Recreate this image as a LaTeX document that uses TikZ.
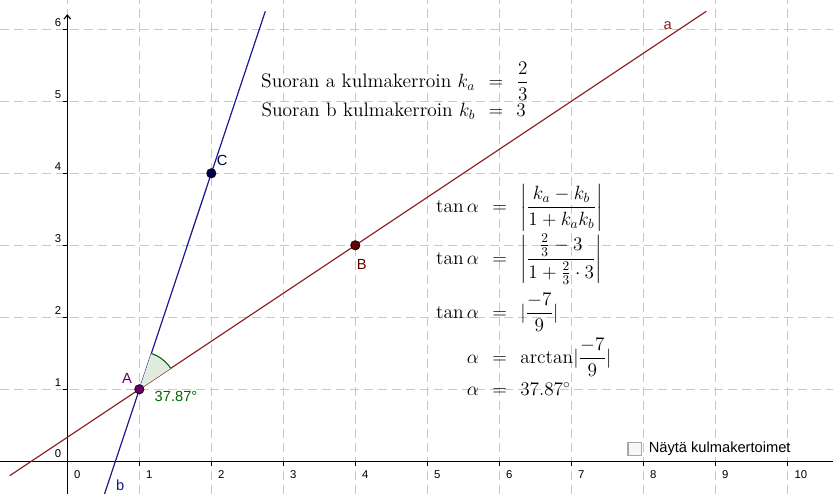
\documentclass[tikz,border=0pt]{standalone}
\usepackage{amsmath,amssymb}
\usepackage{fontspec}
\newfontfamily\ggbfont{Liberation Sans}
\usetikzlibrary{arrows.meta, positioning, calc}

\definecolor{linea}{RGB}{140,30,30}
\definecolor{lineb}{RGB}{25,25,140}
\definecolor{pointa}{RGB}{102,0,102}
\definecolor{pointb}{RGB}{100,0,0}
\definecolor{pointc}{RGB}{0,0,70}
\definecolor{anglegreen}{RGB}{0,100,0}
\definecolor{gridgray}{RGB}{200,200,200}

\begin{document}
\begin{tikzpicture}[x=54pt, y=54pt,
    gridline/.style={gridgray, line width=1.1pt, dash pattern=on 6.75pt off 3.75pt},
    axisline/.style={black, line width=0.9pt},
    ticklabel/.style={font=\ggbfont\fontsize{8.5}{10}\selectfont, inner sep=0pt},
    ptdot/.style={circle, draw=black, line width=0.5pt, inner sep=0pt, minimum size=7pt},
    ptlabel/.style={font=\ggbfont\fontsize{11}{13}\selectfont, inner sep=0pt},
    mathtext/.style={font=\fontsize{14.6}{17.5}\selectfont, inner sep=0pt, anchor=west}]
        \useasboundingbox (-0.935,-0.454) rectangle (10.635,6.407);

        % Grid
        \draw[gridline, step=1] (-0.935,-0.454) grid (10.635,6.407);

        % Axes
        \coordinate (xl) at (-0.935,0);
        \coordinate (xr) at (10.635,0);
        \coordinate (yb) at (0,-0.454);
        \coordinate (yt) at (0,6.21);
        \draw[axisline] (xl) -- (xr);
        \draw[axisline, -{Straight Barb[length=3pt, width=5pt]}] (yb) -- (yt);
        \draw[axisline] (1,0) -- ++(0,-0.06) (2,0) -- ++(0,-0.06) (3,0) -- ++(0,-0.06)
            (4,0) -- ++(0,-0.06) (5,0) -- ++(0,-0.06) (6,0) -- ++(0,-0.06)
            (7,0) -- ++(0,-0.06) (8,0) -- ++(0,-0.06) (9,0) -- ++(0,-0.06)
            (10,0) -- ++(0,-0.06);
        \draw[axisline] (0,1) -- ++(-0.06,0) (0,2) -- ++(-0.06,0) (0,3) -- ++(-0.06,0)
            (0,4) -- ++(-0.06,0) (0,5) -- ++(-0.06,0) (0,6) -- ++(-0.06,0);

        % Tick labels
        \node[ticklabel] (x0) at (0.14,-0.19) {0};
        \node[ticklabel] (x1) at (1.14,-0.19) {1};
        \node[ticklabel] (x2) at (2.14,-0.19) {2};
        \node[ticklabel] (x3) at (3.14,-0.19) {3};
        \node[ticklabel] (x4) at (4.14,-0.19) {4};
        \node[ticklabel] (x5) at (5.14,-0.19) {5};
        \node[ticklabel] (x6) at (6.14,-0.19) {6};
        \node[ticklabel] (x7) at (7.14,-0.19) {7};
        \node[ticklabel] (x8) at (8.14,-0.19) {8};
        \node[ticklabel] (x9) at (9.14,-0.19) {9};
        \node[ticklabel] (x10) at (10.19,-0.19) {10};
        \node[ticklabel] (y0) at (-0.13,0.10) {0};
        \node[ticklabel] (y1) at (-0.13,1.09) {1};
        \node[ticklabel] (y2) at (-0.13,2.09) {2};
        \node[ticklabel] (y3) at (-0.13,3.09) {3};
        \node[ticklabel] (y4) at (-0.13,4.09) {4};
        \node[ticklabel] (y5) at (-0.13,5.09) {5};
        \node[ticklabel] (y6) at (-0.13,6.09) {6};

        % Lines a and b
        \coordinate (Apos) at (1,1);
        \coordinate (a1) at (-0.8,-0.2);
        \coordinate (a2) at (8.875,6.25);
        \coordinate (b1) at (0.517,-0.454);
        \coordinate (b2) at (2.75,6.25);
        \draw[linea, line width=0.9pt] (a1) -- (a2);
        \draw[lineb, line width=0.9pt] (b1) -- (b2);
        \node[ptlabel, text=linea] (la) at (8.34,6.05) {a};
        \node[ptlabel, text=lineb] (lb) at (0.733,-0.33) {b};

        % Angle between the lines
        \fill[anglegreen!12] (Apos) -- ++(33.69:0.525) arc[start angle=33.69, end angle=71.57, radius=0.525] -- cycle;
        \draw[anglegreen, line width=0.8pt] ($(Apos)+(33.69:0.525)$) arc[start angle=33.69, end angle=71.57, radius=0.525];
        \node[ptlabel, text=anglegreen] (ang) at (1.51,0.907) {37.87°};

        % Points
        \node[ptdot, fill=pointa] (A) at (Apos) {};
        \node[ptdot, fill=pointb] (B) at (4,3) {};
        \node[ptdot, fill=pointc] (C) at (2,4) {};
        \node[ptlabel, text=pointa] (lA) at (0.83,1.157) {A};
        \node[ptlabel, text=pointb] (lB) at (4.09,2.73) {B};
        \node[ptlabel, text=pointc] (lC) at (2.15,4.18) {C};

        % Slopes
        \node[mathtext] (slopes) at (2.597,5.115) {$\begin{array}{rcl}
            \mbox{Suoran a kulmakerroin } k_a & = & \dfrac{2}{3}\\
            \mbox{Suoran b kulmakerroin } k_b & = & 3
          \end{array}$};

        % Angle formula
        \node[mathtext] (formula) at (5.027,2.33) {$\begin{array}{rcl}
            \mathrm{tan}\,\alpha & = & \biggl|\dfrac{k_a-k_b}{1+k_ak_b}\biggr|\\[4pt]
            \noalign{\vskip 2pt}
            \mathrm{tan}\,\alpha & = & \biggl|\dfrac{\frac{2}{3}-3}{1+\frac{2}{3}\cdot 3}\biggr|\\[8pt]
            \noalign{\vskip 6pt}
            \mathrm{tan}\,\alpha & = & |\dfrac{-7}{9}|\\[4pt]
            \noalign{\vskip 5pt}
            \alpha & = & \mathrm{arctan}|\dfrac{-7}{9}|\\[2pt]
            \noalign{\vskip 2pt}
            \alpha & = & 37.87^\circ
          \end{array}$};

        % Checkbox
        \node[draw=gray!70, fill=gray!6, line width=1pt, minimum size=10pt, inner sep=0pt] (chk) at (7.878,0.171) {};
        \node[ptlabel, right=5pt of chk] (chktext) {Näytä kulmakertoimet};
\end{tikzpicture}
\end{document}
